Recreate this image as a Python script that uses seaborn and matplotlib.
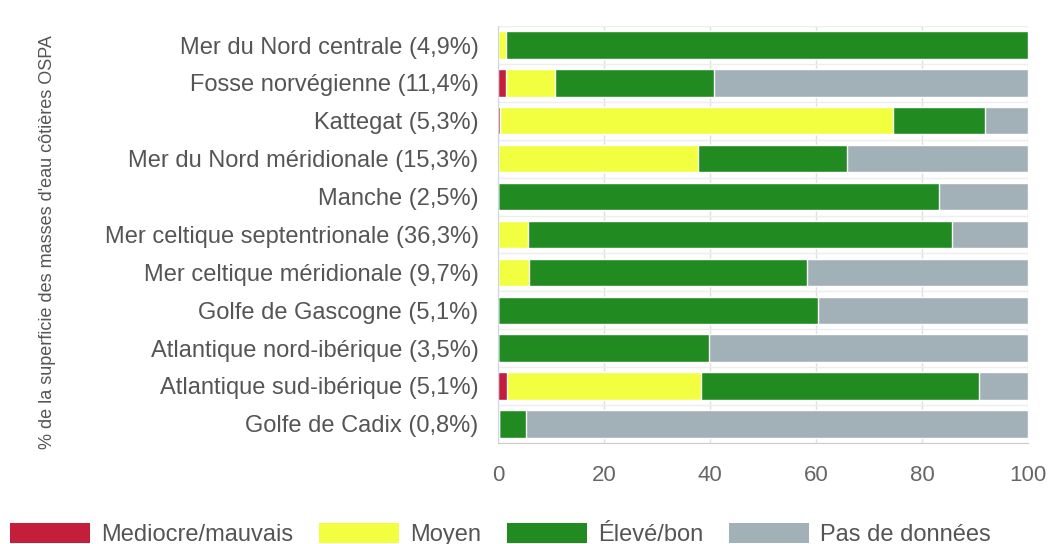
import seaborn as sns
import pandas as pd
import matplotlib.pyplot as plt
from matplotlib.patches import Patch

categories = ['Mer du Nord centrale (4,9%)', 'Fosse norvégienne (11,4%)', 'Kattegat (5,3%)',
              'Mer du Nord méridionale (15,3%)', 'Manche (2,5%)', 'Mer celtique septentrionale (36,3%)',
              'Mer celtique méridionale (9,7%)', 'Golfe de Gascogne (5,1%)',
              'Atlantique nord-ibérique (3,5%)', 'Atlantique sud-ibérique (5,1%)', 'Golfe de Cadix (0,8%)']
mediocre = [0, 1.5, 0.4, 0, 0, 0, 0, 0, 0, 1.7, 0.2]
moyen = [1.5, 9.3, 74.1, 37.7, 0, 5.6, 5.8, 0, 0, 36.5, 0]
eleve = [98.5, 29.9, 17.4, 28.2, 83.3, 80.0, 52.5, 60.3, 39.8, 52.6, 5.0]
pas_donnees = [0, 59.3, 8.1, 34.1, 16.7, 14.4, 41.7, 39.7, 60.2, 9.2, 94.8]

series = ['Mediocre/mauvais', 'Moyen', 'Élevé/bon', 'Pas de données']
colors = ['#c41e3a', '#f2ff40', '#218b22', '#a2b1b8']

df = pd.DataFrame({'cat': categories, series[0]: mediocre, series[1]: moyen,
                   series[2]: eleve, series[3]: pas_donnees})
cum = df[series].cumsum(axis=1)

sns.set_style('white')
plt.rcParams['font.family'] = ['Liberation Sans', 'DejaVu Sans']

fig = plt.figure(figsize=(10.51, 5.44), dpi=100)
ax = fig.add_axes([0.474, 0.186, 0.504, 0.766])

# stacked bars: draw the cumulative totals from the top series down
for s, c in reversed(list(zip(series, colors))):
    sns.barplot(x=cum[s], y=df['cat'], color=c, orient='h', width=0.72,
                saturation=1, ax=ax, order=categories)

ax.set_xlim(0, 100)
ax.set_ylim(len(categories) - 0.5, -0.5)
ax.set_xticks([0, 20, 40, 60, 80, 100])
ax.set_yticks(range(len(categories)))
ax.set_yticks([i - 0.5 for i in range(len(categories) + 1)], minor=True)
ax.tick_params(axis='y', which='major', length=0, labelsize=17, labelcolor='#555555', pad=14)
ax.tick_params(axis='y', which='minor', length=12, color='#ccd6eb', width=1)
ax.tick_params(axis='x', length=10, color='#dddddd', labelsize=16, labelcolor='#666666', pad=6)
ax.grid(axis='x', color='#e0e0e0', linewidth=1)
ax.grid(axis='y', which='minor', color='#eeeeee', linewidth=1)
ax.set_axisbelow(True)
for sp in ['top', 'right']:
    ax.spines[sp].set_visible(False)
ax.spines['left'].set_color('#ccd6eb')
ax.spines['bottom'].set_color('#cccccc')
ax.set_xlabel('')
ax.set_ylabel('')

fig.text(0.045, 0.555, "% de la superficie des masses d'eau côtières OSPA", rotation=90,
         ha='center', va='center', fontsize=13, color='#555555')

handles = [Patch(facecolor=c, edgecolor='none') for c in colors]
fig.legend(handles, series, loc='center left', bbox_to_anchor=(0.0095, 0.018), frameon=False,
           ncol=4, fontsize=17, labelcolor='#555555', handlelength=3.4, handleheight=0.95,
           handletextpad=0.45, columnspacing=1.1, borderpad=0, borderaxespad=0)

plt.savefig('out.png', dpi=100)
